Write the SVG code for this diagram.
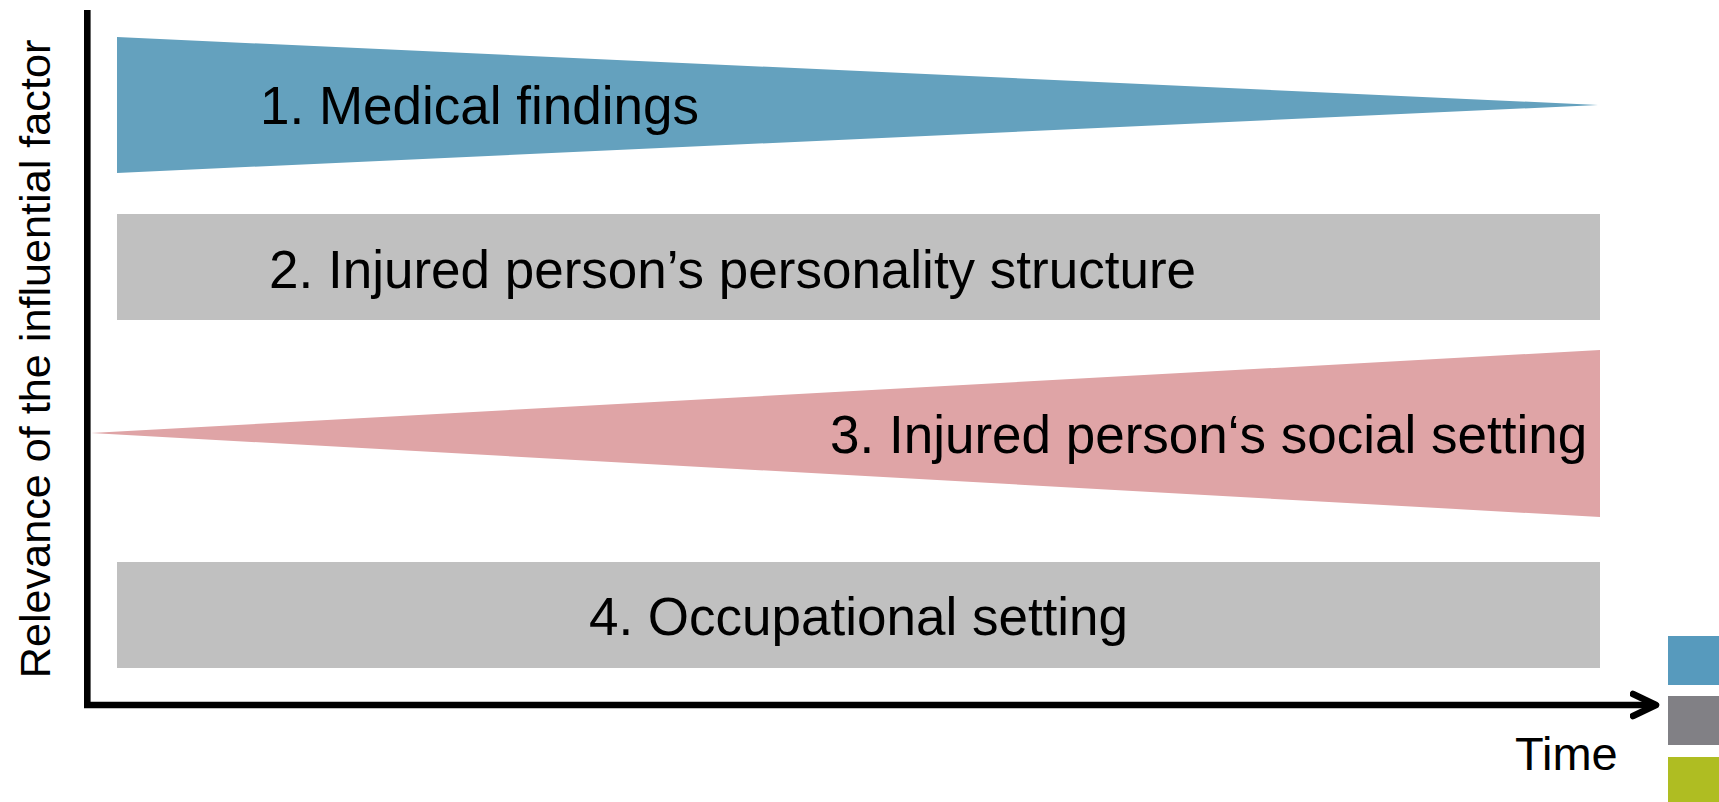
<svg xmlns="http://www.w3.org/2000/svg" width="1719" height="802" viewBox="0 0 1719 802">
  <style>
    .label { font-family: "Liberation Sans", Arial, sans-serif; fill: #000; }
    .big { font-size: 53px; }
    .axis { fill: none; stroke: #000; stroke-width: 6.6; }
  </style>
  <defs>
    <marker id="arrowHead" viewBox="0 0 30 30" markerWidth="30" markerHeight="30" refX="26" refY="15" markerUnits="userSpaceOnUse" orient="auto">
      <polyline points="3,4 26,15 3,26" fill="none" stroke="#000" stroke-width="6.6" stroke-linecap="round" stroke-linejoin="round"/>
    </marker>
  </defs>
  <rect width="1719" height="802" fill="#fff"/>

  <!-- factor bands -->
  <g id="factor-medical">
    <polygon points="117,37 1598,105 117,173" fill="#64A1BE"/>
    <text class="label big" x="260" y="124">1. Medical findings</text>
  </g>
  <g id="factor-personality">
    <rect x="117" y="214" width="1483" height="106" fill="#C0C0C0"/>
    <text class="label big" x="269" y="288">2. Injured person’s personality structure</text>
  </g>
  <g id="factor-social">
    <polygon points="91,433 1600,350 1600,517" fill="#DFA4A6"/>
    <text class="label big" x="830" y="453">3. Injured person‘s social setting</text>
  </g>
  <g id="factor-occupational">
    <rect x="117" y="562" width="1483" height="106" fill="#C0C0C0"/>
    <text class="label big" x="858.5" y="635" text-anchor="middle">4. Occupational setting</text>
  </g>

  <!-- axes -->
  <g id="connectors">
    <polyline class="axis" points="87.3,10 87.3,705 1656,705" marker-end="url(#arrowHead)"/>
  </g>

  <g id="axis-labels">
    <text class="label" font-size="43.2" transform="translate(50,359) rotate(-90)" text-anchor="middle">Relevance of the influential factor</text>
    <text class="label" font-size="47" x="1515" y="770">Time</text>
  </g>

  <!-- colour swatches -->
  <g id="swatches">
    <rect x="1668" y="636" width="51" height="49" fill="#579ABD"/>
    <rect x="1668" y="696" width="51" height="49" fill="#818085"/>
    <rect x="1668" y="757" width="51" height="45" fill="#AFBD22"/>
  </g>
</svg>
